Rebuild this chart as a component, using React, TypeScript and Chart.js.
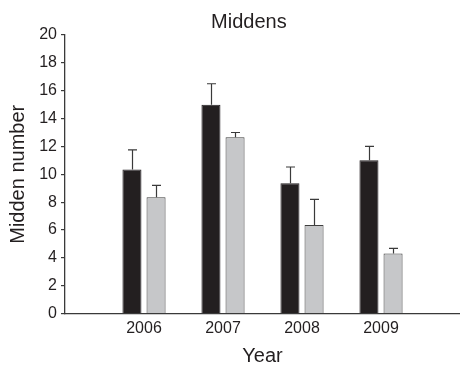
import React, { useEffect, useRef } from 'react';
import { Chart, registerables } from 'chart.js';

Chart.register(...registerables);

const chartTitle = 'Middens';
const xTitle = 'Year';
const yTitle = 'Midden number';
const categories = ['2006', '2007', '2008', '2009'];
const series1Values = [10.35, 15.0, 9.35, 11.0];
const series1Errors = [1.4, 1.5, 1.17, 1.0];
const series2Values = [8.35, 12.65, 6.35, 4.3];
const series2Errors = [0.85, 0.35, 1.85, 0.38];
const yMin = 0;
const yMax = 20;
const yStep = 2;

const FONT = "'Liberation Sans', Arial, Helvetica, sans-serif";
const TEXT = '#231f20';
const AXIS = '#3a3a3a';

const errorBarPlugin = {
  id: 'errorBars',
  afterDatasetsDraw(chart: any) {
    const ctx = chart.ctx;
    const yScale = chart.scales.y;
    chart.data.datasets.forEach((ds: any, i: number) => {
      const meta = chart.getDatasetMeta(i);
      meta.data.forEach((el: any, j: number) => {
        const v = ds.data[j];
        const e = ds.errors ? ds.errors[j] : null;
        if (v == null || e == null) return;
        const top = yScale.getPixelForValue(v + e);
        const x = Math.round(el.x) + 0.5;
        ctx.save();
        ctx.strokeStyle = AXIS;
        ctx.lineWidth = 1.2;
        ctx.beginPath();
        ctx.moveTo(x, el.y);
        ctx.lineTo(x, top);
        ctx.moveTo(x - 4.5, top);
        ctx.lineTo(x + 4.5, top);
        ctx.stroke();
        ctx.restore();
      });
    });
  },
};

const titlePlugin = {
  id: 'customTitle',
  afterDraw(chart: any) {
    const ctx = chart.ctx;
    ctx.save();
    ctx.font = `20px ${FONT}`;
    ctx.fillStyle = TEXT;
    ctx.textAlign = 'center';
    ctx.textBaseline = 'alphabetic';
    ctx.fillText(chartTitle, chart.width * 0.541, 27.5);
    ctx.restore();
  },
};

export default function App() {
  const canvasRef = useRef<HTMLCanvasElement | null>(null);

  useEffect(() => {
    if (!canvasRef.current) return;
    const labels = ['', ...categories, ''];
    const chart = new Chart(canvasRef.current, {
      type: 'bar',
      data: {
        labels,
        datasets: [
          {
            label: 'Series 1',
            data: [null, ...series1Values, null],
            errors: [null, ...series1Errors, null],
            backgroundColor: '#231f20',
            borderColor: '#231f20',
            borderWidth: 1,
            barPercentage: 0.79,
            categoryPercentage: 0.61,
          } as any,
          {
            label: 'Series 2',
            data: [null, ...series2Values, null],
            errors: [null, ...series2Errors, null],
            backgroundColor: '#c6c7c9',
            borderColor: '#3f3f3f',
            borderWidth: 1,
            barPercentage: 0.79,
            categoryPercentage: 0.61,
          } as any,
        ],
      },
      options: {
        responsive: false,
        animation: false,
        layout: { padding: { top: 35, right: 0, bottom: 0, left: 0 } },
        plugins: {
          legend: { display: false },
          title: { display: false },
          tooltip: { enabled: false },
        },
        scales: {
          x: {
            type: 'category',
            offset: false,
            grid: { display: false, drawTicks: false },
            border: { display: true, color: AXIS, width: 1.3 },
            ticks: {
              color: TEXT,
              font: { family: FONT, size: 16 },
              padding: 5,
              maxRotation: 0,
              autoSkip: false,
            },
            title: {
              display: true,
              text: xTitle,
              color: TEXT,
              font: { family: FONT, size: 20, lineHeight: 1 },
              padding: { top: 0, bottom: 0 },
            },
            afterFit(scale: any) {
              scale.height = 52.5;
              scale.paddingLeft = 0;
              scale.paddingRight = 0;
            },
          },
          y: {
            min: yMin,
            max: yMax,
            grid: {
              display: true,
              drawOnChartArea: false,
              drawTicks: true,
              tickLength: 4,
              color: AXIS,
              lineWidth: 1.2,
            },
            border: { display: true, color: AXIS, width: 1.3 },
            ticks: {
              stepSize: yStep,
              color: TEXT,
              font: { family: FONT, size: 16 },
              padding: 4,
            },
            title: {
              display: true,
              text: yTitle,
              color: TEXT,
              font: { family: FONT, size: 20, lineHeight: 1 },
              padding: { top: 8, bottom: 0 },
            },
            afterFit(scale: any) {
              scale.width = 65;
            },
          },
        },
      } as any,
      plugins: [errorBarPlugin, titlePlugin],
    });
    return () => chart.destroy();
  }, []);

  return (
    <div style={{ position: 'fixed', left: 0, top: 0, width: 460, height: 366, background: '#fff' }}>
      <canvas ref={canvasRef} width={460} height={366} style={{ display: 'block' }} />
    </div>
  );
}
